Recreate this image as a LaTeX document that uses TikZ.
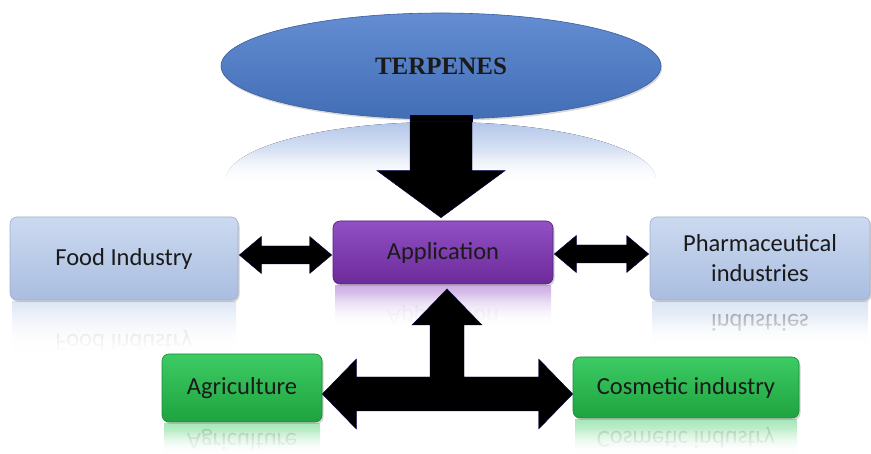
\documentclass[tikz,border=0pt]{standalone}
\usepackage{fontspec}
\setmainfont{Carlito}
\newfontfamily\tnr{Liberation Serif}
\usetikzlibrary{shadows,fadings,calc,shapes.geometric}
\definecolor{txt}{HTML}{1A1A1A}
\definecolor{fbTop}{HTML}{CCDAF0}
\definecolor{fbBot}{HTML}{A9BDE0}
\definecolor{fbEdge}{HTML}{9DB0D3}
\definecolor{apTop}{HTML}{9150C4}
\definecolor{apBot}{HTML}{6C2A9A}
\definecolor{grTop}{HTML}{3DCB64}
\definecolor{grBot}{HTML}{1EA33F}
\definecolor{elTop}{HTML}{648DD2}
\definecolor{elBot}{HTML}{426EB6}
\definecolor{elRef}{HTML}{B3C6E9}
\tikzfading[name=whiteup, top color=transparent!100, bottom color=transparent!0]
\tikzset{
  box/.style={rounded corners=7pt, minimum width=#1, inner sep=0pt, align=center,
    text=txt, font=\fontsize{24.5}{30}\selectfont,
    drop shadow={opacity=0.35, shadow xshift=1.5pt, shadow yshift=-2pt}},
  bluebox/.style={box=#1, top color=fbTop, bottom color=fbBot, draw=fbEdge, line width=0.6pt},
  purplebox/.style={box=#1, top color=apTop, bottom color=apBot, draw=apBot!80!black, line width=0.6pt},
  greenbox/.style={box=#1, top color=grTop, bottom color=grBot, draw=grBot!85!black, line width=0.6pt},
  bigarrow/.style={fill=black, draw=black!70!blue, line width=0.4pt, line join=miter},
  refl/.style={opacity=0.22, text=txt, font=\fontsize{24.5}{30}\selectfont, inner sep=0pt},
  fadeout/.style={fill=white, path fading=whiteup},
}
\begin{document}
\begin{tikzpicture}[x=1pt,y=-1pt]
\useasboundingbox (0,0) rectangle (871,454);

% ---- reflections (drawn first) ----
% ellipse reflection
\fill[top color=elRef, bottom color=white] (226,180) arc[start angle=180, end angle=360, x radius=215, y radius=58] -- cycle;
\fill[fadeout] (220,150) rectangle (662,186);
% food
\fill[top color=fbTop!70, bottom color=white] (12,302) rectangle (236,350);
\node[refl] at (124,341) {\scalebox{1}[-1]{Food Industry}};
\fill[fadeout] (8,300) rectangle (240,352);
% pharmaceutical
\fill[top color=fbTop!70, bottom color=white] (652,302) rectangle (868,345);
\node[refl, opacity=0.3] at (760,323) {\scalebox{1}[-1]{industries}};
\fill[fadeout] (648,315) rectangle (871,347);
% application
\fill[top color=apTop!45, bottom color=white] (335,286) rectangle (551,325);
\node[refl, opacity=0.08] at (443,316) {\scalebox{1}[-1]{Application}};
\fill[fadeout] (330,292) rectangle (556,327);
% agriculture
\fill[top color=grTop!45, bottom color=white] (164,424) rectangle (320,454);
\node[refl, opacity=0.15] at (242,440) {\scalebox{1}[-1]{Agriculture}};
\fill[fadeout] (160,430) rectangle (324,454);
% cosmetic
\fill[top color=grTop!45, bottom color=white] (575,420) rectangle (797,454);
\node[refl, opacity=0.15] at (686,438) {\scalebox{1}[-1]{Cosmetic industry}};
\fill[fadeout] (570,428) rectangle (802,454);

% ---- nodes ----
\node[bluebox=228pt, minimum height=83pt] (food) at (124,258.5) {Food Industry};
\node[purplebox=220pt, minimum height=63pt] (app) at (443,252.5) {Application};
\node[bluebox=220pt, minimum height=83pt] (pharm) at (760,258.5) {Pharmaceutical\\industries};
\node[greenbox=160pt, minimum height=68pt] (agri) at (242,388) {Agriculture};
\node[greenbox=226pt, minimum height=61pt] (cosm) at (686,387.5) {Cosmetic industry};

% down arrow (under the ellipse)
\coordinate (dtop) at (441,100);
\fill[bigarrow] let \p1=(dtop), \p2=(app.north) in
  (\x1-31pt,\y1) -- (\x1+31pt,\y1) -- (\x1+31pt,\y2+50pt) -- (\x1+64pt,\y2+50pt)
  -- (\x1,\y2+3pt) -- (\x1-64pt,\y2+50pt) -- (\x1-31pt,\y2+50pt) -- cycle;

\node[ellipse, minimum width=440pt, minimum height=106pt, inner sep=0pt,
  top color=elTop, bottom color=elBot, draw=elBot!85!black, line width=0.6pt,
  drop shadow={opacity=0.3, shadow xshift=1pt, shadow yshift=-2pt},
  font=\tnr\bfseries\fontsize{25}{30}\selectfont, text=txt] (terp) at (441,66) {TERPENES};
\fill[bigarrow] let \p1=(terp.south) in (\x1-31pt,\y1+4pt) rectangle (\x1+31pt,\y1-2pt);

% horizontal double arrows
\coordinate (fa) at (food.east |- 0,255);
\coordinate (af) at (app.west |- 0,255);
\fill[bigarrow] let \p1=(fa), \p2=(af) in
  (\x1+1pt,\y1) -- (\x1+23pt,\y1+18.5pt) -- (\x1+23pt,\y1+9pt) -- (\x2-23pt,\y1+9pt)
  -- (\x2-23pt,\y1+18.5pt) -- (\x2-1pt,\y1) -- (\x2-23pt,\y1-18.5pt) -- (\x2-23pt,\y1-9pt)
  -- (\x1+23pt,\y1-9pt) -- (\x1+23pt,\y1-18.5pt) -- cycle;
\coordinate (ap) at (app.east |- 0,254);
\coordinate (pa) at (pharm.west |- 0,254);
\fill[bigarrow] let \p1=(ap), \p2=(pa) in
  (\x1+1pt,\y1) -- (\x1+23pt,\y1+18.5pt) -- (\x1+23pt,\y1+9pt) -- (\x2-23pt,\y1+9pt)
  -- (\x2-23pt,\y1+18.5pt) -- (\x2-1pt,\y1) -- (\x2-23pt,\y1-18.5pt) -- (\x2-23pt,\y1-9pt)
  -- (\x1+23pt,\y1-9pt) -- (\x1+23pt,\y1-18.5pt) -- cycle;

% T-shaped triple arrow
\coordinate (tt) at (447,289);
\coordinate (tl) at (agri.east |- 0,394);
\coordinate (tr) at (cosm.west |- 0,394);
\fill[bigarrow] let \p1=(tt), \p2=(tl), \p3=(tr) in
  (\x1,\y1) -- (\x1+35pt,\y1-36pt) -- (\x1+17pt,\y1-36pt) -- (\x1+17pt,\y2+17pt)
  -- (\x3-34pt,\y2+17pt) -- (\x3-34pt,\y2+35pt) -- (\x3,\y2) -- (\x3-34pt,\y2-35pt)
  -- (\x3-34pt,\y2-17pt) -- (\x2+34pt,\y2-17pt) -- (\x2+34pt,\y2-35pt) -- (\x2,\y2)
  -- (\x2+34pt,\y2+35pt) -- (\x2+34pt,\y2+17pt) -- (\x1-17pt,\y2+17pt)
  -- (\x1-17pt,\y1-36pt) -- (\x1-35pt,\y1-36pt) -- cycle;
\end{tikzpicture}
\end{document}
